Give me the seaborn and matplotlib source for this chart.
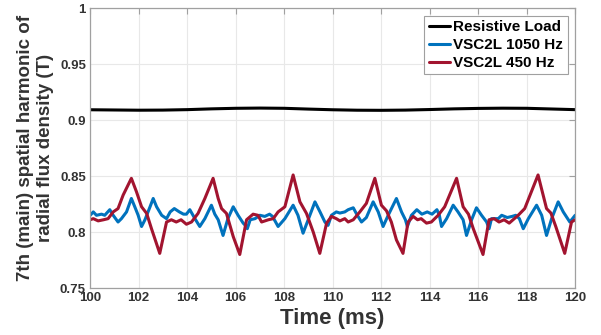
import numpy as np
import pandas as pd
import matplotlib
matplotlib.use("Agg")
import matplotlib.pyplot as plt
import seaborn as sns

# ---------------- data ----------------
black_t = [100, 101, 102, 103, 104, 105, 106, 107, 108, 109, 110,
           111, 112, 113, 114, 115, 116, 117, 118, 119, 120]
black_v = [0.9092, 0.9090, 0.9088, 0.9089, 0.9093, 0.9100, 0.9105, 0.9107, 0.9105, 0.9098, 0.9092,
           0.9088, 0.9087, 0.9089, 0.9094, 0.9100, 0.9104, 0.9106, 0.9105, 0.9099, 0.9093]

blue_t = [100.0, 100.13, 100.26, 100.47, 100.6, 100.81, 100.95, 101.15, 101.29, 101.5,
          101.7, 101.84, 101.98, 102.12, 102.26, 102.47, 102.6, 102.74, 102.95, 103.15,
          103.3, 103.47, 103.68, 103.85, 103.97, 104.11, 104.32, 104.52, 104.73, 105.0,
          105.14, 105.28, 105.48, 105.68, 105.9, 106.1, 106.31, 106.4, 106.48, 106.6,
          106.8, 107.0, 107.2, 107.4, 107.52, 107.75, 108.03, 108.37, 108.57, 108.78,
          109.06, 109.27, 109.48, 109.68, 109.81, 109.95, 110.15, 110.3, 110.5, 110.64,
          110.85, 110.99, 111.19, 111.39, 111.67, 111.88, 112.08, 112.29, 112.63, 112.84,
          113.0, 113.08, 113.25, 113.47, 113.68, 113.9, 114.1, 114.3, 114.4, 114.49,
          114.7, 114.97, 115.17, 115.38, 115.52, 115.73, 115.93, 116.14, 116.35, 116.45,
          116.55, 116.83, 116.97, 117.2, 117.4, 117.55, 117.7, 117.86, 118.07, 118.41,
          118.62, 118.82, 119.03, 119.3, 119.51, 119.78, 120.0]
blue_v = [0.815, 0.818, 0.815, 0.816, 0.815, 0.820, 0.815, 0.809, 0.812, 0.818,
          0.830, 0.8226, 0.815, 0.805, 0.811, 0.8226, 0.830, 0.8226, 0.815, 0.812,
          0.818, 0.821, 0.818, 0.816, 0.816, 0.820, 0.812, 0.805, 0.812, 0.824,
          0.816, 0.811, 0.797, 0.812, 0.8226, 0.815, 0.808, 0.806, 0.803, 0.811,
          0.812, 0.815, 0.814, 0.816, 0.814, 0.805, 0.812, 0.824, 0.815, 0.799,
          0.815, 0.827, 0.818, 0.809, 0.806, 0.815, 0.818, 0.817, 0.818, 0.820,
          0.8217, 0.816, 0.809, 0.813, 0.827, 0.818, 0.805, 0.815, 0.830, 0.818,
          0.811, 0.805, 0.815, 0.820, 0.816, 0.818, 0.816, 0.820, 0.815, 0.805,
          0.812, 0.824, 0.818, 0.811, 0.797, 0.811, 0.8217, 0.815, 0.809, 0.803,
          0.812, 0.812, 0.815, 0.813, 0.814, 0.815, 0.812, 0.803, 0.812, 0.824,
          0.815, 0.797, 0.812, 0.827, 0.818, 0.809, 0.815]

red_t = [100.0, 100.13, 100.33, 100.55, 100.74, 100.95, 101.15, 101.36, 101.7, 101.91,
         102.12, 102.33, 102.53, 102.87, 103.15, 103.35, 103.55, 103.75, 103.97, 104.18,
         104.45, 104.73, 105.07, 105.28, 105.42, 105.62, 105.9, 106.17, 106.45, 106.72,
         106.92, 107.07, 107.35, 107.55, 107.75, 108.03, 108.37, 108.65, 108.92, 109.2,
         109.47, 109.75, 109.95, 110.15, 110.3, 110.5, 110.64, 110.85, 111.12, 111.39,
         111.74, 112.01, 112.22, 112.42, 112.63, 112.9, 113.11, 113.32, 113.5, 113.65,
         113.87, 114.07, 114.35, 114.62, 115.11, 115.38, 115.6, 115.8, 116.2, 116.45,
         116.66, 116.86, 117.07, 117.28, 117.65, 117.92, 118.47, 118.82, 119.0, 119.2,
         119.57, 119.85, 120.0]
red_v = [0.811, 0.812, 0.810, 0.811, 0.812, 0.818, 0.821, 0.833, 0.848, 0.836,
         0.8226, 0.8167, 0.803, 0.781, 0.809, 0.811, 0.809, 0.811, 0.807, 0.809,
         0.8167, 0.830, 0.848, 0.830, 0.821, 0.8167, 0.796, 0.780, 0.811, 0.816,
         0.815, 0.809, 0.811, 0.812, 0.818, 0.8226, 0.851, 0.827, 0.8167, 0.800,
         0.781, 0.808, 0.814, 0.812, 0.810, 0.812, 0.809, 0.811, 0.818, 0.8256,
         0.848, 0.824, 0.819, 0.809, 0.793, 0.781, 0.809, 0.814, 0.811, 0.812,
         0.808, 0.809, 0.815, 0.8226, 0.848, 0.8226, 0.816, 0.803, 0.780, 0.811,
         0.812, 0.809, 0.811, 0.808, 0.815, 0.821, 0.851, 0.821, 0.817, 0.805,
         0.781, 0.809, 0.811]

series_names = ["Resistive Load", "VSC2L 1050 Hz", "VSC2L 450 Hz"]
series_colors = ["#000000", "#0072BD", "#A2142F"]

x_ticks = [100, 102, 104, 106, 108, 110, 112, 114, 116, 118, 120]
y_ticks = [0.75, 0.8, 0.85, 0.9, 0.95, 1.0]
y_tick_labels = ["0.75", "0.8", "0.85", "0.9", "0.95", "1"]

x_label = "Time (ms)"
y_label = "7th (main) spatial harmonic of\nradial flux density (T)"

# ---------------- plot ----------------
sns.set_theme(style="whitegrid")
plt.rcParams["font.family"] = ["Liberation Sans", "DejaVu Sans"]
plt.rcParams["font.weight"] = "bold"

fig = plt.figure(figsize=(6.01, 3.35), dpi=100)
ax = fig.add_axes([0.150, 0.140, 0.807, 0.836])

for t, v, name, col in [(black_t, black_v, series_names[0], series_colors[0]),
                        (blue_t, blue_v, series_names[1], series_colors[1]),
                        (red_t, red_v, series_names[2], series_colors[2])]:
    sns.lineplot(x=t, y=v, ax=ax, color=col, label=name, linewidth=2.2)

ax.set_xlim(100, 120)
ax.set_ylim(0.75, 1.0)
ax.set_xticks(x_ticks)
ax.set_xticklabels([str(x) for x in x_ticks])
ax.set_yticks(y_ticks)
ax.set_yticklabels(y_tick_labels)

ax.set_facecolor("white")
ax.grid(True, color="#e8e8e8", linewidth=0.8)
for s in ax.spines.values():
    s.set_visible(True)
    s.set_color("#a0a0a0")
    s.set_linewidth(0.9)

ax.tick_params(axis="both", direction="in", length=4, width=0.8, color="#a0a0a0",
               top=True, right=True, labelsize=9.5, labelcolor="#333333", pad=3)
for lab in ax.get_xticklabels() + ax.get_yticklabels():
    lab.set_fontweight("bold")

ax.set_xlabel(x_label, fontsize=16, fontweight="bold", color="#333333", labelpad=3)
ax.set_ylabel(y_label, fontsize=13.5, fontweight="bold", color="#333333", labelpad=4,
              linespacing=1.3)

leg = ax.legend(loc="upper right", fontsize=11, frameon=True, fancybox=False,
                framealpha=1.0, edgecolor="#a0a0a0", handlelength=1.4,
                handletextpad=0.2, borderpad=0.3, labelspacing=0.25,
                borderaxespad=0.5)
leg.get_frame().set_linewidth(0.8)
for txt in leg.get_texts():
    txt.set_fontweight("bold")
    txt.set_color("#000000")

fig.savefig("out.png", dpi=100)
